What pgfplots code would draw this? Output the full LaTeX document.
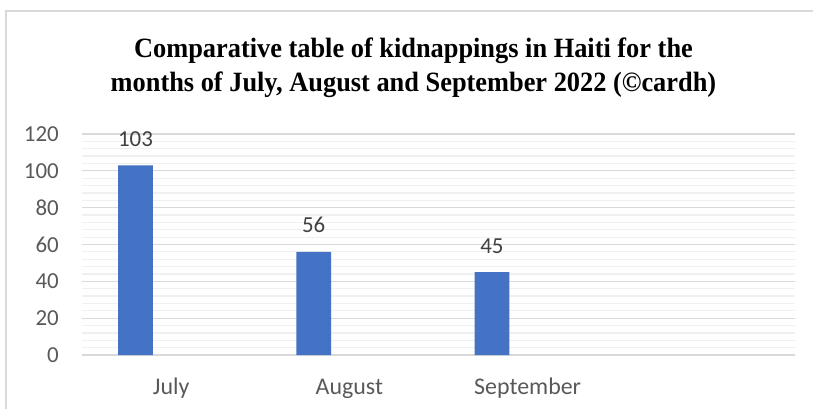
\documentclass[border=0pt]{standalone}
\usepackage{fontspec}
\setmainfont{Carlito}
\newfontfamily\titlefont{Liberation Serif}[FakeStretch=0.945]
\usepackage{pgfplots}
\pgfplotsset{compat=1.18}
\definecolor{barblue}{HTML}{4472C4}
\definecolor{framegray}{HTML}{D9D9D9}
\definecolor{gridmaj}{HTML}{D9D9D9}
\definecolor{gridmin}{HTML}{F0F0F0}
\definecolor{ticklab}{HTML}{595959}
\definecolor{datalab}{HTML}{404040}
\pgfplotsset{/pgf/number format/assume math mode=true}
\begin{document}
\begin{tikzpicture}[x=1bp,y=1bp]
\useasboundingbox (0,0) rectangle (813,408);
\draw[color=framegray, line width=1.5bp] (6,-5) -- (6,397) -- (820,397);
\node[anchor=base, inner sep=0pt, font=\titlefont\bfseries\fontsize{28}{34}\selectfont] at (413.5,351) {Comparative table of kidnappings in Haiti for the};
\node[anchor=base, inner sep=0pt, font=\titlefont\bfseries\fontsize{28}{34}\selectfont] at (413.5,317) {months of July, August and September 2022 (©cardh)};
\begin{axis}[
  at={(82bp,53bp)}, anchor=south west,
  scale only axis, width=713bp, height=221bp,
  xmin=-0.5, xmax=3.5, ymin=0, ymax=120,
  ytick={0,20,...,120}, minor y tick num=4,
  ymajorgrids, yminorgrids,
  major grid style={draw=gridmaj, line width=1.2bp},
  minor grid style={draw=gridmin, line width=1.2bp},
  axis line style={draw=none},
  major tick length=0, minor tick length=0,
  xtick={0,1,2}, xticklabels={July,August,September},
  tick label style={text=ticklab},
  yticklabel style={font=\fontsize{23}{27}\selectfont, anchor=east, inner sep=0pt, xshift=-23bp},
  xticklabel style={font=\fontsize{24}{28}\selectfont, anchor=base, inner sep=0pt, yshift=-39bp},
  ybar, bar width=0.196, bar shift=-0.2,
  nodes near coords,
  every node near coord/.append style={font=\fontsize{23}{27}\selectfont, text=datalab, anchor=base, inner sep=0pt, yshift=19bp},
  clip=false,
]
\addplot[fill=barblue, draw=none] coordinates {(0,103) (1,56) (2,45)};
\end{axis}
\end{tikzpicture}
\end{document}
